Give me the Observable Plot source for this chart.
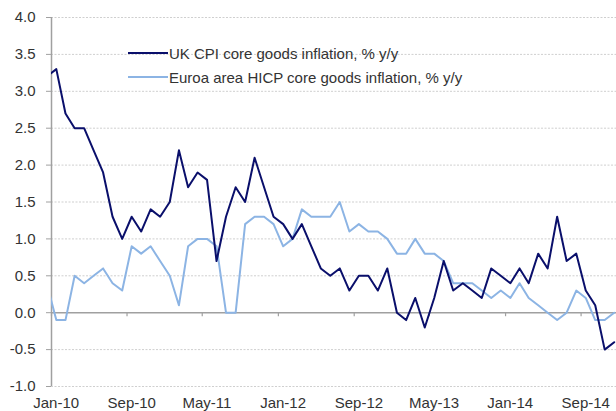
<!DOCTYPE html>
<html><head><meta charset="utf-8">
<script src="https://cdn.jsdelivr.net/npm/d3@7"></script>
<script src="https://cdn.jsdelivr.net/npm/@observablehq/plot@0.6"></script>
<style>
body{margin:0;background:#fff;font-family:"Liberation Sans",Arial,sans-serif;}
#wrap{position:relative;width:616px;height:411px;overflow:hidden;}
.legend{position:absolute;left:128px;top:41px;font-size:15px;color:#333;}
.row{display:flex;align-items:center;height:24px;white-space:nowrap;}
.sw{width:40px;height:2px;margin-right:1px;}
</style></head><body><div id="wrap"></div>
<script>
// Monthly series, Dec-09 (runs off the left edge) through Dec-14
const firstMonth = "2009-12-01";
const lastMonthEnd = "2015-01-01";
const ukCore = [3.2,
  3.3, 2.7, 2.5, 2.5, 2.2, 1.9, 1.3, 1.0, 1.3, 1.1, 1.4, 1.3,
  1.5, 2.2, 1.7, 1.9, 1.8, 0.7, 1.3, 1.7, 1.5, 2.1, 1.7, 1.3,
  1.2, 1.0, 1.2, 0.9, 0.6, 0.5, 0.6, 0.3, 0.5, 0.5, 0.3, 0.6,
  0.0, -0.1, 0.2, -0.2, 0.2, 0.7, 0.3, 0.4, 0.3, 0.2, 0.6, 0.5,
  0.4, 0.6, 0.4, 0.8, 0.6, 1.3, 0.7, 0.8, 0.3, 0.1, -0.5, -0.4];
const euroCore = [0.4,
  -0.1, -0.1, 0.5, 0.4, 0.5, 0.6, 0.4, 0.3, 0.9, 0.8, 0.9, 0.7,
  0.5, 0.1, 0.9, 1.0, 1.0, 0.9, 0.0, 0.0, 1.2, 1.3, 1.3, 1.2,
  0.9, 1.0, 1.4, 1.3, 1.3, 1.3, 1.5, 1.1, 1.2, 1.1, 1.1, 1.0,
  0.8, 0.8, 1.0, 0.8, 0.8, 0.7, 0.4, 0.4, 0.4, 0.3, 0.2, 0.3,
  0.2, 0.4, 0.2, 0.1, 0.0, -0.1, 0.0, 0.3, 0.2, -0.1, -0.1, 0.0];
const xTickMonths = ["2010-01-01","2010-09-01","2011-05-01","2012-01-01","2012-09-01","2013-05-01","2014-01-01","2014-09-01"];
const yTicks = [-1, -0.5, 0, 0.5, 1, 1.5, 2, 2.5, 3, 3.5, 4];
const seriesNames = ["UK CPI core goods inflation, % y/y", "Euroa area HICP core goods inflation, % y/y"];
const seriesColors = ["#0a0f6b", "#8cb4e4"];

const months = d3.utcMonth.range(new Date(firstMonth), new Date(lastMonthEnd));
const mid = m => new Date((+m + +d3.utcMonth.offset(m, 1)) / 2);
const toRows = vals => vals.map((v, i) => ({date: mid(months[i]), value: v}));
const ukRows = toRows(ukCore);
const euRows = toRows(euroCore);
const xTicks = xTickMonths.map(s => new Date(s));
const xStart = new Date("2010-01-01");
const xEnd = new Date(lastMonthEnd);
const fmt = d3.utcFormat("%b-%y");
const axisGray = "#a0a0a0";

const chart = Plot.plot({
  width: 616, height: 411,
  marginLeft: 51, marginRight: 0, marginTop: 17, marginBottom: 25,
  style: {fontFamily: "Liberation Sans, Arial, sans-serif", fontSize: "15px", color: "#333", background: "#fff"},
  x: {type: "utc", domain: [xStart, xEnd], range: [51, 618.5]},
  y: {domain: [-1, 4]},
  marks: [
    Plot.ruleY(yTicks.filter(d => d !== 0), {stroke: "#cfcfcf", strokeWidth: 1, strokeDasharray: "2,1.5"}),
    Plot.ruleY([0], {stroke: axisGray, strokeWidth: 1.5}),
    Plot.ruleX([xStart], {y1: -1, y2: 4, stroke: axisGray, strokeWidth: 1.5}),
    Plot.ruleX(xTicks, {x: d => d, y1: 0, y2: 0, insetBottom: -4, stroke: axisGray, strokeWidth: 1.2}),
    Plot.axisY({ticks: yTicks, tickFormat: d => d.toFixed(1), tickSize: 5, tickPadding: 11, stroke: axisGray, fill: "#333", label: null}),
    Plot.axisX({ticks: xTicks, tickFormat: fmt, tickSize: 0, tickPadding: 11, dx: 4.7, fill: "#333", label: null}),
    Plot.line(euRows, {x: "date", y: "value", stroke: seriesColors[1], strokeWidth: 2, clip: true}),
    Plot.line(ukRows, {x: "date", y: "value", stroke: seriesColors[0], strokeWidth: 2, clip: true})
  ]
});

const wrap = document.getElementById("wrap");
wrap.appendChild(chart);
const legend = document.createElement("div");
legend.className = "legend";
seriesNames.forEach((name, i) => {
  const row = document.createElement("div");
  row.className = "row";
  const sw = document.createElement("span");
  sw.className = "sw";
  sw.style.background = seriesColors[i];
  const t = document.createElement("span");
  t.textContent = name;
  row.appendChild(sw); row.appendChild(t);
  legend.appendChild(row);
});
wrap.appendChild(legend);
</script>
</body></html>
